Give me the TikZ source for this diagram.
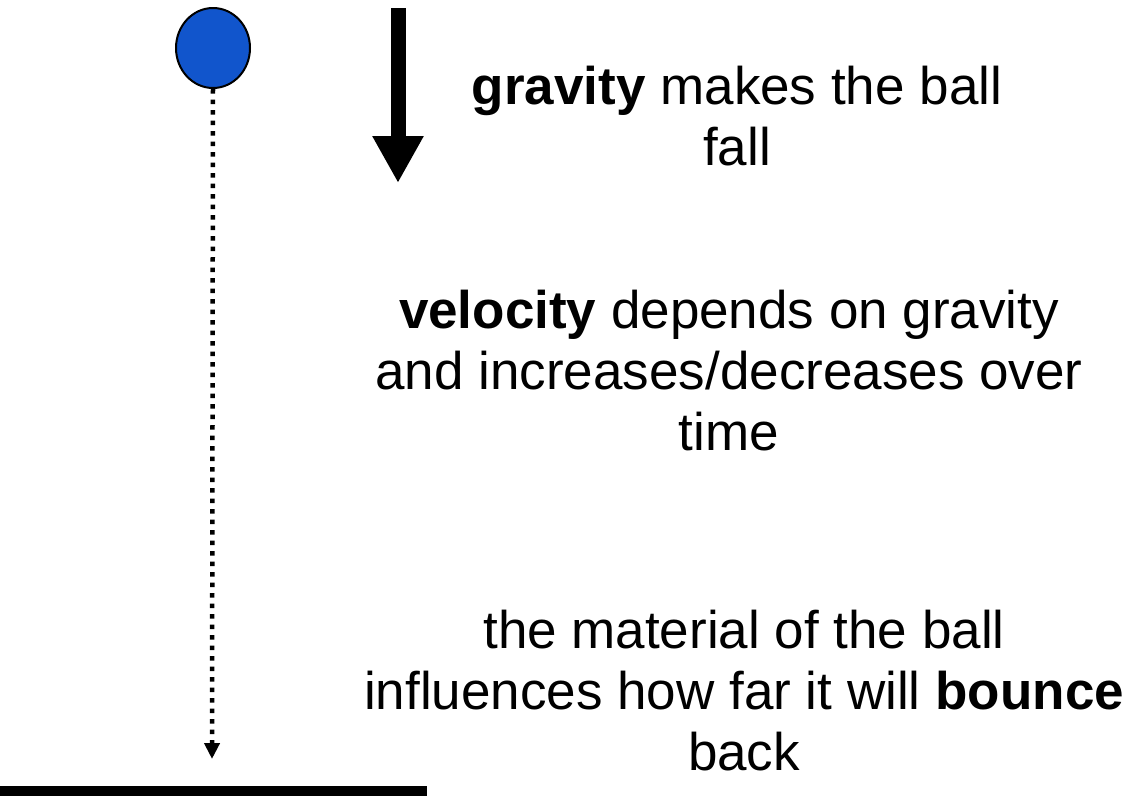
\documentclass[tikz,border=0pt]{standalone}
\usepackage{fontspec}
\setmainfont{Liberation Sans}
\usetikzlibrary{arrows.meta,shapes.geometric}
\definecolor{ballblue}{RGB}{17,85,204}
\tikzset{
  label text/.style={align=center, inner sep=0pt, anchor=base, font=\fontsize{53}{61}\selectfont},
  ball/.style={ellipse, draw=black, line width=2pt, fill=ballblue, minimum width=74pt, minimum height=80pt, inner sep=0pt},
}
\begin{document}
\begin{tikzpicture}[x=1pt,y=-1pt]
\useasboundingbox (0,0) rectangle (1138,796);
\node[ball] (ball) at (213,48) {};
\coordinate (fallend) at (212,759);
\draw[line width=4.5pt, dash pattern=on 4.5pt off 6pt, -{Triangle[width=15pt,length=16pt]}] (ball.south) -- (fallend);
\coordinate (gtop) at (398,8);
\coordinate (gtip) at (398,183);
\draw[line width=15pt, -{Triangle[width=48pt,length=47pt]}] (gtop) -- (gtip);
\coordinate (groundL) at (0,791);
\coordinate (groundR) at (427,791);
\draw[line width=10pt] (groundL) -- (groundR);
\node[label text] (t1) at (737,165) {\textbf{gravity} makes the ball\\fall};
\node[label text] (t2) at (729,450) {\textbf{velocity} depends on gravity\\and increases/decreases over\\time};
\node[label text] (t3) at (744,770) {the material of the ball\\influences how far it will \textbf{bounce}\\back};
\end{tikzpicture}
\end{document}
